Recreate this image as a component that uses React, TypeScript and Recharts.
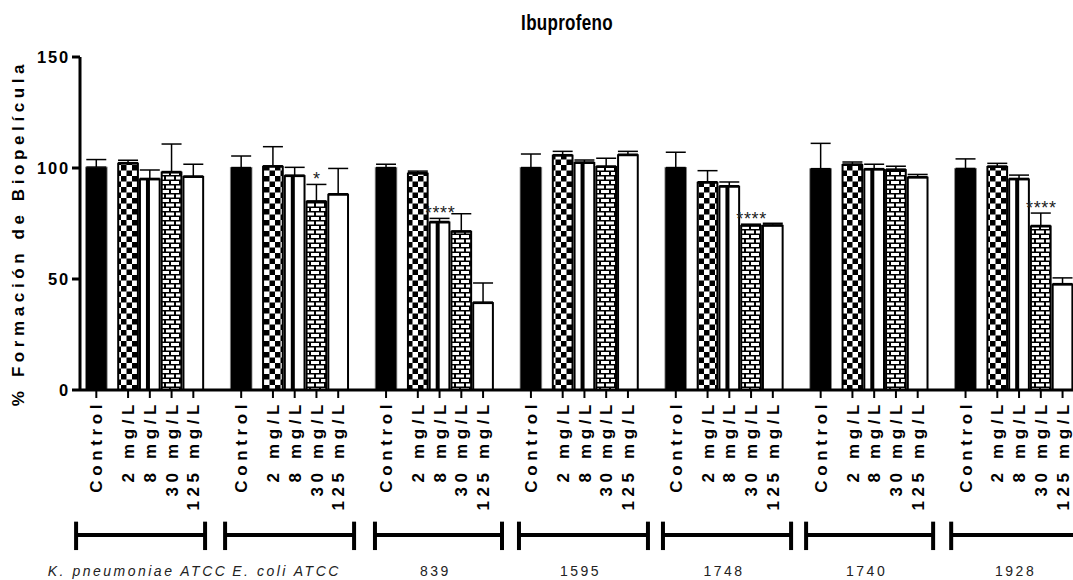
import React from "react";
import { BarChart, Bar, XAxis, YAxis, ErrorBar, ReferenceLine, LabelList } from "recharts";

// strains / groups along the x axis
const GROUPS = ["K. pneumoniae ATCC", "E. coli ATCC", "839", "1595", "1748", "1740", "1928"];
const GROUP_ITALIC = [true, true, false, false, false, false, false];
const TREATMENTS = ["Control", "2 mg/L", "8 mg/L", "30 mg/L", "125 mg/L"];

// mean % biofilm formation per treatment (Control, 2, 8, 30, 125 mg/L)
const KPN_MEAN = [100.4, 102.4, 95.3, 98.4, 96.4];
const ECO_MEAN = [100.2, 101.0, 96.8, 85.2, 88.4];
const S839_MEAN = [100.2, 97.9, 75.9, 71.7, 39.6];
const S1595_MEAN = [100.2, 106.0, 102.7, 100.9, 106.2];
const S1748_MEAN = [100.2, 93.8, 92.0, 74.4, 74.4];
const S1740_MEAN = [99.7, 101.8, 99.7, 99.5, 96.1];
const S1928_MEAN = [99.8, 100.9, 95.3, 74.1, 47.9];

// upper error (SD)
const KPN_ERR = [3.4, 1.1, 3.8, 12.4, 5.3];
const ECO_ERR = [5.2, 8.6, 3.5, 7.4, 11.4];
const S839_ERR = [1.5, 0.7, 1.4, 7.7, 8.6];
const S1595_ERR = [6.1, 1.5, 0.9, 3.5, 1.3];
const S1748_ERR = [6.9, 5.0, 1.7, 0.3, 0.7];
const S1740_ERR = [11.4, 0.9, 2.0, 1.3, 1.0];
const S1928_ERR = [4.3, 1.2, 1.5, 5.6, 2.6];

// significance marks
const KPN_SIG = ["", "", "", "", ""];
const ECO_SIG = ["", "", "", "*", ""];
const S839_SIG = ["", "", "****", "", ""];
const S1595_SIG = ["", "", "", "", ""];
const S1748_SIG = ["", "", "", "****", ""];
const S1740_SIG = ["", "", "", "", ""];
const S1928_SIG = ["", "", "", "****", ""];

const MEANS = [KPN_MEAN, ECO_MEAN, S839_MEAN, S1595_MEAN, S1748_MEAN, S1740_MEAN, S1928_MEAN];
const ERRS = [KPN_ERR, ECO_ERR, S839_ERR, S1595_ERR, S1748_ERR, S1740_ERR, S1928_ERR];
const SIGS = [KPN_SIG, ECO_SIG, S839_SIG, S1595_SIG, S1748_SIG, S1740_SIG, S1928_SIG];

const Y_TICKS = [0, 50, 100, 150];

// x layout in bar-width units
const GROUP_STEP = 6.66;
const TREAT_OFFSET = [0, 1.46, 2.46, 3.46, 4.46];
const X_DOMAIN: [number, number] = [-0.75, 44.9];
const BRACKET_START = [-0.93, 5.92, 12.81, 19.43, 26.05, 32.63, 39.3];
const BRACKET_END = [5.0, 11.85, 18.65, 25.36, 31.94, 38.47, 45.5];
const BRACKET_Y = -65.3;
const CAP_TOP = -59.3;
const CAP_BOTTOM = -72.1;

const FONT = "'Liberation Sans', Arial, Helvetica, sans-serif";

const data = GROUPS.flatMap((_, g) =>
  TREATMENTS.map((label, t) => ({
    x: g * GROUP_STEP + TREAT_OFFSET[t],
    g,
    t,
    label,
    value: MEANS[g][t],
    errv: ERRS[g][t],
    err: [0, ERRS[g][t]],
    sig: SIGS[g][t],
  }))
);

function PatternBar(props: any) {
  const { x, y, width, height, payload } = props;
  if (!height || height <= 0) return null;
  const t = payload.t;
  if (t === 0) {
    return <rect x={x} y={y} width={width} height={height} fill="#000" stroke="#8a8a8a" strokeWidth={0.8} />;
  }
  const fill = t === 1 ? "url(#checker)" : t === 3 ? "url(#brick)" : "#fff";
  return (
    <g>
      <rect x={x + 1} y={y + 1} width={width - 2} height={height - 1} fill={fill} stroke="#000" strokeWidth={2} />
      {t === 2 && <rect x={x + 7} y={y} width={4} height={height} fill="#000" />}
    </g>
  );
}

function XTick(props: any) {
  const { x, y, payload } = props;
  const d = data.find((e) => Math.abs(e.x - payload.value) < 1e-6);
  return (
    <g transform={`translate(${x},${y})`}>
      <text
        transform="rotate(-90)"
        textAnchor="end"
        dy="0.36em"
        fontFamily={FONT}
        fontWeight="bold"
        fontSize={17}
        letterSpacing={4.6}
        fill="#000"
      >
        {d ? d.label : ""}
      </text>
    </g>
  );
}

function YTick(props: any) {
  const { x, y, payload } = props;
  return (
    <text
      x={x}
      y={y}
      dy="0.36em"
      textAnchor="end"
      fontFamily={FONT}
      fontWeight="bold"
      fontSize={16.5}
      letterSpacing={1.8}
      fill="#000"
    >
      {payload.value}
    </text>
  );
}

function SigLabel(props: any) {
  const { x, y, width, height, index, value } = props;
  if (!value) return null;
  const d = data[index];
  const errPx = (d.errv * height) / d.value;
  return (
    <text
      x={x + width / 2 + 0.5}
      y={y - errPx + 1}
      textAnchor="middle"
      fontFamily={FONT}
      fontSize={18}
      letterSpacing={0.6}
      fill="#222"
    >
      {value}
    </text>
  );
}

function GroupLabel(props: any) {
  const { viewBox, text, italic } = props;
  if (!viewBox) return null;
  const cx = viewBox.x + viewBox.width / 2;
  return (
    <text
      x={cx - 3}
      y={viewBox.y + 41}
      textAnchor="middle"
      fontFamily={FONT}
      fontStyle={italic ? "italic" : "normal"}
      fontSize={14}
      letterSpacing={2.5}
      fill="#222"
    >
      {text}
    </text>
  );
}

export default function App() {
  return (
    <div style={{ position: "absolute", left: 0, top: 0, width: 1073, height: 580, background: "#fff", overflow: "hidden" }}>
      <svg width={0} height={0} style={{ position: "absolute" }}>
        <defs>
          <pattern id="checker" width={11} height={11} patternUnits="userSpaceOnUse">
            <rect width={11} height={11} fill="#fff" />
            <rect width={5.5} height={5.5} fill="#000" />
            <rect x={5.5} y={5.5} width={5.5} height={5.5} fill="#000" />
          </pattern>
          <pattern id="brick" width={10} height={9} patternUnits="userSpaceOnUse">
            <rect width={10} height={9} fill="#000" />
            <rect x={1} y={1} width={8} height={3} fill="#fff" />
            <rect x={-4} y={5.5} width={8} height={3} fill="#fff" />
            <rect x={6} y={5.5} width={8} height={3} fill="#fff" />
          </pattern>
        </defs>
      </svg>

      <div
        style={{
          position: "absolute",
          left: 567,
          top: 11,
          transform: "translateX(-50%) scaleY(1.25)",
          transformOrigin: "50% 0",
          fontFamily: FONT,
          fontWeight: "bold",
          fontSize: 17,
          letterSpacing: 0.3,
          lineHeight: "20px",
          whiteSpace: "nowrap",
          color: "#000",
        }}
      >
        Ibuprofeno
      </div>

      <div
        style={{
          position: "absolute",
          left: 19,
          top: 233,
          transform: "translate(-50%, -50%) rotate(-90deg)",
          fontFamily: FONT,
          fontWeight: "bold",
          fontSize: 17,
          letterSpacing: 4.6,
          lineHeight: "20px",
          whiteSpace: "nowrap",
          color: "#000",
        }}
      >
        % Formación de Biopelícula
      </div>

      <BarChart width={1073} height={580} data={data} margin={{ top: 57, right: 0, bottom: 0, left: 0 }}>
        <XAxis
          type="number"
          dataKey="x"
          domain={X_DOMAIN}
          allowDataOverflow
          ticks={data.map((d) => d.x)}
          interval={0}
          height={190}
          tick={<XTick />}
          tickSize={8}
          tickMargin={2}
          tickLine={{ stroke: "#000", strokeWidth: 2 }}
          axisLine={{ stroke: "#000", strokeWidth: 3 }}
        />
        <YAxis
          type="number"
          domain={[0, 150]}
          ticks={Y_TICKS}
          width={80}
          tick={<YTick />}
          tickSize={8}
          tickMargin={2}
          tickLine={{ stroke: "#000", strokeWidth: 3 }}
          axisLine={{ stroke: "#000", strokeWidth: 3 }}
        />
        <Bar dataKey="value" barSize={21.7} shape={<PatternBar />} isAnimationActive={false}>
          <ErrorBar dataKey="err" direction="y" width={10} stroke="#000" strokeWidth={1.5} />
          <LabelList dataKey="sig" content={<SigLabel />} />
        </Bar>
        {GROUPS.map((name, g) => (
          <ReferenceLine
            key={`h${g}`}
            segment={[
              { x: BRACKET_START[g], y: BRACKET_Y },
              { x: BRACKET_END[g], y: BRACKET_Y },
            ]}
            ifOverflow="visible"
            stroke="#000"
            strokeWidth={4}
            label={<GroupLabel text={name} italic={GROUP_ITALIC[g]} />}
          />
        ))}
        {GROUPS.map((_, g) => (
          <ReferenceLine
            key={`l${g}`}
            segment={[
              { x: BRACKET_START[g], y: CAP_TOP },
              { x: BRACKET_START[g], y: CAP_BOTTOM },
            ]}
            ifOverflow="visible"
            stroke="#000"
            strokeWidth={4}
          />
        ))}
        {GROUPS.map((_, g) => (
          <ReferenceLine
            key={`r${g}`}
            segment={[
              { x: BRACKET_END[g], y: CAP_TOP },
              { x: BRACKET_END[g], y: CAP_BOTTOM },
            ]}
            ifOverflow="visible"
            stroke="#000"
            strokeWidth={4}
          />
        ))}
      </BarChart>
    </div>
  );
}
